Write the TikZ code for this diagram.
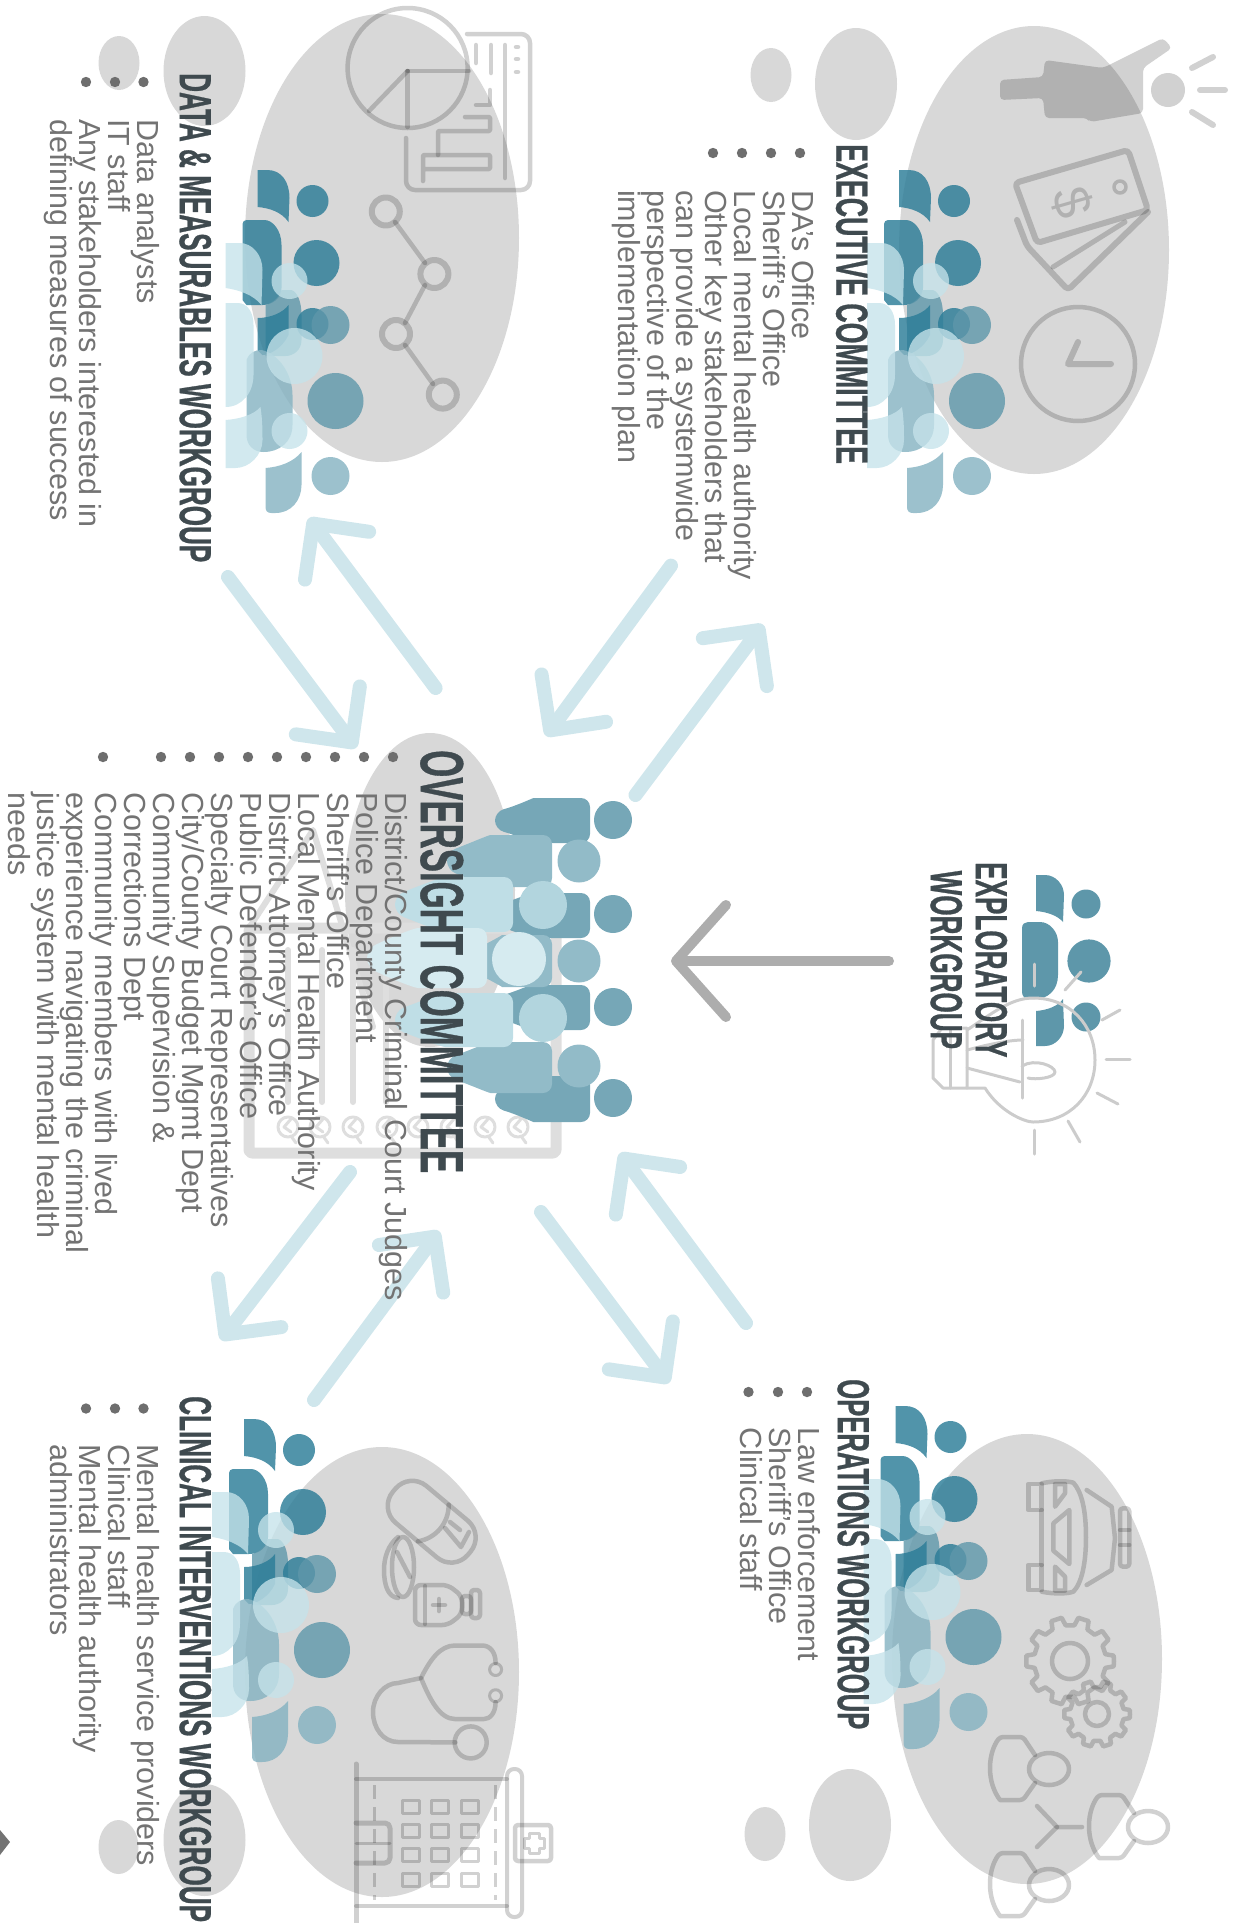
\documentclass[tikz,border=0pt]{standalone}
\usepackage{fontspec}
\usetikzlibrary{arrows.meta}
\setmainfont{Liberation Sans}
\newfontfamily\headf[FakeStretch=0.58,FakeBold=0.6]{Liberation Sans}
\newfontfamily\headfwide[FakeStretch=0.595,FakeBold=0.6]{Liberation Sans}
\newfontfamily\headfnarrow[FakeStretch=0.57,FakeBold=0.6]{Liberation Sans}
\definecolor{blobgrey}{HTML}{D8D8D8}
\definecolor{tealA}{HTML}{2B7C97}
\definecolor{tealB}{HTML}{5E97AA}
\definecolor{tealC}{HTML}{86B3C2}
\definecolor{paleT}{HTML}{C5E3EA}
\definecolor{arrowblue}{HTML}{CFE6EC}
\definecolor{headc}{HTML}{3F4A4F}
\definecolor{bodyc}{HTML}{737373}
\tikzset{
  blob/.style={fill=blobgrey,draw=none},
  icon/.style={draw=black,draw opacity=.18,line width=4.5pt,line join=round,line cap=round,fill=none},
  iconfill/.style={fill=black,fill opacity=.18,draw=none},
  thinicon/.style={draw=black!20,line width=3pt,line join=round,line cap=round,fill=none},
  court/.style={draw=black!13,line join=round,line cap=round,fill=none},
  bullet/.style={fill=black!57,draw=none},
  headtext/.style={rotate=-90,anchor=north west,inner sep=0pt,text=headc,font=\headf\bfseries\fontsize{45}{45}\selectfont,align=center},
  bodytext/.style={rotate=-90,anchor=north west,inner sep=0pt,text=bodyc,font=\fontsize{30.5}{29}\selectfont,align=left},
  linkarrow/.style={draw=arrowblue,line width=14pt,line cap=round,-{Straight Barb[length=40pt,width=80pt,line width=14pt,round]}},
  bigarrow/.style={draw=black!32,line width=10pt,line cap=round,-{Straight Barb[length=50pt,width=112pt,line width=10pt,round]}},
  dkA/.style={fill=tealA,fill opacity=.82},
  dkB/.style={fill=tealB,fill opacity=.8},
  dkC/.style={fill=tealC,fill opacity=.82},
  pale/.style={fill=paleT,fill opacity=.78},
}
\newcommand\fl{\rule{0pt}{22pt}}
\newcommand\capline{\rule{0pt}{32pt}}
\newcommand\peoplegroup[2]{%
\begin{scope}[shift={(#1,#2)}]
  \fill[dkA] (0,0) -- (10,0) .. controls (24,0) and (32,12) .. (32,28) -- (31,52) .. controls (24,42) and (12,38) .. (0,37) -- cycle;
  \fill[dkA] (55,31) circle (16);
  \fill[dkA] (59,93) circle (23);
  \fill[dkA] (-15,54) [rounded corners=4pt] -- (-15,50) -- (3,50) [rounded corners=0pt] .. controls (15,50) and (24,60) .. (24,75) -- (24,118) .. controls (24,128) and (15,135) .. (5,135) -- (-11,135) -- (-15,130) -- cycle;
  \fill[dkB] (8,135) .. controls (18,132) and (22,125) .. (24,120) -- (34,120) .. controls (40,122) and (44,132) .. (44,145) -- (44,170) .. controls (44,180) and (36,186) .. (28,186) -- (8,186) -- cycle;
  \fill[dkA] (0,148) .. controls (14,148) and (26,142) .. (31,135) -- (31,165) .. controls (25,178) and (12,185) .. (5,185) -- (0,180) -- cycle;
  \fill[dkA] (55,154) circle (16);
  \fill[dkB] (73,155) circle (19);
  \fill[dkC] (-11,190) .. controls (-8,182) and (-2,180) .. (4,180) .. controls (22,184) and (35,205) .. (35,225) -- (35,255) .. controls (35,272) and (22,282) .. (6,282) .. controls (-4,282) and (-11,275) .. (-11,265) -- cycle;
  \fill[dkB] (78,231) circle (28);
  \fill[dkC] (44,282) .. controls (36,292) and (22,297) .. (8,298) -- (8,337) .. controls (8,341) and (10,343) .. (14,343) -- (18,343) .. controls (34,343) and (44,330) .. (44,315) -- cycle;
  \fill[dkC] (73,306) circle (19);
  \fill[pale] (-32,73) -- (-18,73) .. controls (-5,73) and (5,85) .. (5,100) -- (4,135) .. controls (-4,125) and (-18,120) .. (-32,118) -- cycle;
  \fill[pale] (-32,133) -- (-20,133) .. controls (-10,133) and (-4,142) .. (-4,155) -- (-4,205) .. controls (-4,222) and (-15,237) .. (-32,237) -- cycle;
  \fill[pale] (-32,250) .. controls (-18,249) and (-4,245) .. (3,237) .. controls (5,250) and (5,262) .. (5,270) .. controls (5,285) and (-8,298) .. (-22,298) -- (-32,298) -- cycle;
  \fill[pale] (32,111) circle (18);
  \fill[pale] (37,186) circle (28);
  \fill[pale] (32,261) circle (18);
\end{scope}}
\newcommand\ovbody[5]{% xl xr ytop ybot colour
  \fill[#5,rounded corners=9pt] (#1,{(#3+#4)/2-9}) .. controls ({#1+(#2-#1)*.22},{#3+8}) and ({#1+(#2-#1)*.4},#3) .. ({#1+(#2-#1)*.5},#3) -- (#2,#3) -- (#2,#4) -- ({#1+(#2-#1)*.5},#4) .. controls ({#1+(#2-#1)*.4},#4) and ({#1+(#2-#1)*.22},{#4-8}) .. (#1,{(#3+#4)/2+9}) -- cycle;}
\newcommand\gearicon[5]{% cx cy R r hole
  \draw[icon] (#1,#2) circle (#5);
  \draw[icon,shift={(#1,#2)}] (0:#3)
    \foreach \a in {0,36,...,324}{ -- (\a+7:#3) -- (\a+11:#4) -- (\a+25:#4) -- (\a+29:#3) } -- (360:#3) -- cycle;}
\newcommand\personicon[2]{%
  \draw[icon,shift={(#1,#2)},rounded corners=3pt] (45,18) -- (33,0) -- (10,0) [rounded corners=0pt] .. controls (4,8) and (0,18) .. (0,31) .. controls (0,44) and (4,55) .. (10,63) [rounded corners=3pt] -- (33,63) -- (45,46);
  \draw[icon] ({#1+59},{#2+32}) ellipse [x radius=20,y radius=16];}
\begin{document}
\begin{tikzpicture}[x=1pt,y=-1pt]
\useasboundingbox (0,0) rectangle (1233,1923);
% ---- grey blobs
\fill[blob] (1034,250) ellipse [x radius=135,y radius=224];
\fill[blob] (856,84) ellipse [x radius=41,y radius=56];
\fill[blob] (771,75) ellipse [x radius=20.5,y radius=27];
\fill[blob] (382,238) ellipse [x radius=137,y radius=224];
\fill[blob] (204.5,71) ellipse [x radius=41,y radius=55];
\fill[blob] (119,63) ellipse [x radius=20.5,y radius=27];
\fill[blob] (1027,1659) ellipse [x radius=135,y radius=225];
\fill[blob] (850,1825) ellipse [x radius=41,y radius=56];
\fill[blob] (765,1834) ellipse [x radius=20.5,y radius=27];
\fill[blob] (382,1672) ellipse [x radius=137,y radius=225];
\fill[blob] (204.5,1840) ellipse [x radius=41,y radius=56];
\fill[blob] (118.5,1847) ellipse [x radius=20,y radius=27];
\fill[blob] (430,890) ellipse [x radius=85,y radius=157];
% ---- executive icons
\fill[iconfill,rounded corners=4pt] (1000,80) -- (1043,77) -- (1045,60) -- (1103,68) -- (1163,38) -- (1172,48) -- (1143,68) -- (1143,113) -- (1090,122) -- (1087,118) -- (1045,118) -- (1043,98) -- (1000,100) -- cycle;
\fill[iconfill] (1168,90) circle (17);
\draw[icon,line width=6pt] (1192,68) -- (1213,57);
\draw[icon,line width=6pt] (1200,90) -- (1225,90);
\draw[icon,line width=6pt] (1192,112) -- (1213,125);
\draw[icon,line width=6pt,rounded corners=4pt] (1015,183) -- (1128,150) -- (1148,210) -- (1037,243) -- cycle;
\draw[icon,line width=6pt,rounded corners=4pt] (1017,220) -- (1027,246) -- (1068,290) -- (1148,212);
\draw[icon,line width=5pt] (1053,267) -- (1125,222);
\draw[icon,line width=3.5pt] (1120,187) circle (6);
\node[rotate=-74,inner sep=0pt,text=black,text opacity=.18,font=\fontsize{52}{52}\selectfont] (dollar) at (1072,203) {\$};
\draw[icon] (1078,364) circle (57);
\draw[icon,line width=6pt] (1078,342) -- (1068,364) -- (1111,364);
% ---- data icons
\draw[icon] (407.6,68) circle (60);
\draw[icon] (407.6,71) -- (407.6,127);
\draw[icon] (407.6,71) -- (469,71);
\draw[icon] (407.6,71) -- (369,111);
\draw[icon,rounded corners=9pt] (467,34) -- (530,34) -- (530,190) -- (406,190) -- (406,138);
\draw[icon,rounded corners=1pt] (423,181) -- (423,155) -- (490,155) -- (490,169) -- (423,169);
\draw[icon,rounded corners=1pt] (438,155) -- (438,131) -- (490,131) -- (490,117) -- (465,117);
\draw[icon] (476,105) -- (490,105) -- (490,90);
\draw[icon] (476,45) -- (476,63);
\draw[icon] (491,45) -- (491,73);
\draw[icon] (505,45) -- (505,178);
\draw[icon] (516,47) -- (518,47);
\draw[icon] (516,59) -- (518,59);
\draw[icon] (516,72) -- (518,72);
\draw[icon,line width=6pt] (385.8,211.5) circle (14);
\draw[icon,line width=6pt] (434.4,274) circle (14);
\draw[icon,line width=6pt] (396,334) circle (14);
\draw[icon,line width=6pt] (442.8,394.6) circle (14);
\draw[icon] (395,222) -- (425,263);
\draw[icon] (425,285) -- (405,323);
\draw[icon] (405,345) -- (433,384);
% ---- operations icons: car
\begin{scope}[shift={(1010,1460)},xscale=.3333,yscale=.3333]
  \draw[icon] (55,72) rectangle (95,150);
  \draw[icon] (55,315) rectangle (95,390);
  \draw[icon] (95,150) -- (95,315);
  \draw[icon] (95,70) .. controls (130,62) and (170,62) .. (190,68) .. controls (215,95) and (228,150) .. (228,232) .. controls (228,310) and (215,370) .. (190,395) .. controls (170,402) and (130,402) .. (95,395);
  \draw[icon] (230,90) -- (305,140) -- (315,235) -- (305,330) -- (230,375);
  \draw[icon,rounded corners=3pt] (330,145) rectangle (358,320);
  \draw[icon] (330,210) -- (358,210);
  \draw[icon] (330,255) -- (358,255);
  \draw[icon] (130,190) -- (178,150) -- (178,312) -- (130,272) -- cycle;
  \draw[icon] (135,72) -- (165,72) -- (165,100) -- (135,140) -- cycle;
  \draw[icon] (135,320) -- (165,350) -- (165,392) -- (135,392) -- cycle;
\end{scope}
\gearicon{1070}{1661}{44}{36}{18}
\gearicon{1097}{1714}{33}{27}{12}
\personicon{990}{1737}
\personicon{1089}{1795}
\personicon{990}{1853}
\draw[icon] (1082,1827) -- (1057,1827) -- (1037,1806);
\draw[icon] (1057,1827) -- (1037,1847);
% ---- clinical icons
\draw[icon,shift={(431.7,1521.7)},rotate=-40,rounded corners=22pt] (-49,-24) rectangle (49,24);
\draw[icon,shift={(431.7,1521.7)},rotate=-40] (2,-24) .. controls (14,-10) and (14,10) .. (2,24);
\draw[icon] (450,1522) -- (460,1530);
\draw[icon] (445,1528) -- (461,1547) -- (469,1532);
\draw[icon] (403,1567) ellipse [x radius=11,y radius=30];
\draw[icon] (398,1537) .. controls (388,1545) and (384,1558) .. (384,1570) .. controls (384,1585) and (388,1597) .. (398,1598);
\draw[icon] (397,1552) -- (410,1577);
\draw[icon,rounded corners=6pt] (415,1585) -- (448,1585) -- (462,1596) -- (462,1614) -- (448,1625) -- (415,1625) -- cycle;
\draw[icon] (425,1586) -- (425,1624);
\draw[icon,rounded corners=3pt] (462,1596) rectangle (471,1614);
\draw[icon,rounded corners=3pt] (471,1590) rectangle (480,1618);
\draw[icon] (439,1599) -- (439,1611);
\draw[icon] (433,1605) -- (445,1605);
\draw[icon] (470.7,1742.4) circle (16);
\draw[icon] (455.4,1742.4) -- (398,1742) .. controls (383,1742) and (373,1728) .. (373,1712) .. controls (373,1696) and (385,1683) .. (398,1683) -- (421,1678) .. controls (430,1660) and (440,1645.5) .. (455,1645.5) -- (482,1645.5) .. controls (490,1645.5) and (495.6,1652) .. (495.6,1663);
\draw[icon] (421,1678) .. controls (430,1700) and (440,1719) .. (455,1719) -- (484,1719) .. controls (490,1719) and (495.6,1713) .. (495.6,1702);
\draw[icon,line width=3pt] (495.6,1669.5) circle (6);
\draw[icon,line width=3pt] (495.6,1695.7) circle (6);
\draw[icon,line width=5pt] (356,1923) -- (356,1764);
\draw[icon,line width=4pt] (356,1779) -- (507,1779);
\draw[icon,line width=4pt] (356,1906) -- (507,1906);
\draw[icon,rounded corners=7pt,line width=4pt] (507,1769) rectangle (522,1917);
\draw[icon,rounded corners=3pt] (515,1825) rectangle (551,1861);
\draw[icon,line width=3pt] (529,1838) -- (529,1833) -- (539,1833) -- (539,1838) -- (544,1838) -- (544,1848) -- (539,1848) -- (539,1853) -- (529,1853) -- (529,1848) -- (524,1848) -- (524,1838) -- cycle;
\draw[icon,line width=3pt,dash pattern=on 14pt off 8pt,line cap=butt] (374,1785) -- (374,1900);
\draw[icon,line width=3pt,dash pattern=on 14pt off 8pt,line cap=butt] (495.6,1785) -- (495.6,1900);
\draw[icon,rounded corners=5pt,line width=5pt] (356,1823) -- (390,1823) -- (390,1863) -- (356,1863);
\draw[icon,line width=3pt] (356,1843) -- (390,1843);
\foreach \cx in {411,440,470}{\foreach \cy in {1807,1831,1855,1880}{
  \draw[icon,line width=3pt] ({\cx-8.5},{\cy-6.5}) rectangle ({\cx+8.5},{\cy+6.5});}}
% ---- courthouse
\draw[court,line width=11pt,rounded corners=3pt] (249,928) -- (556,928) -- (556,1153) -- (249,1153) -- cycle;
\draw[court,line width=6pt] (249,928) -- (313,830) -- (373,1027);
\foreach \bx in {288,322,353,386}{\draw[court,line width=6pt] (\bx,950) -- (\bx,1102);}
\foreach \cx in {288,320,353,387,418,451,485,518}{
  \draw[court,line width=3pt] (\cx,1127) circle (10);
  \draw[court,line width=3pt] (\cx+3,1119) -- (\cx-4,1127) -- (\cx+3,1132) (\cx+3,1136) -- (\cx+8,1143);}
% ---- oversight people
\ovbody{495}{590}{798}{843}{tealB!85!white}
\ovbody{495}{590}{1076}{1122}{tealB!85!white}
\ovbody{490}{590}{893}{938}{tealB!85!white}
\ovbody{490}{590}{985}{1030}{tealB!85!white}
\ovbody{447}{552}{835}{887}{tealC!90!white}
\ovbody{447}{552}{1042}{1093}{tealC!90!white}
\ovbody{470}{552}{935}{987}{tealC!90!white}
\ovbody{395}{513}{877}{932}{paleT!90!tealC}
\ovbody{395}{513}{993}{1047}{paleT!90!tealC}
\ovbody{367}{487}{928}{988}{paleT!70!white}
\foreach \cy in {820,914,1007,1098}{\fill[tealB!85!white] (613,\cy) circle (19);}
\foreach \cy in {861,961,1066}{\fill[tealC!90!white] (579,\cy) circle (21.5);}
\foreach \cy in {905,1018}{\fill[paleT!70!tealC] (543,\cy) circle (24);}
\fill[paleT!70!white] (519,959) circle (27);
% ---- workgroup people
\peoplegroup{899}{170}
\peoplegroup{257.5}{170}
\peoplegroup{895.5}{1406}
\peoplegroup{244}{1419}
% ---- exploratory
\fill[tealB] (1036,875) -- (1045,875) .. controls (1056,875) and (1064,885) .. (1064,895) -- (1063,922) .. controls (1058,916) and (1048,912) .. (1036,911) -- cycle;
\fill[tealB] (1022,928) .. controls (1022,924) and (1025,922) .. (1028,922) -- (1040,922) .. controls (1050,922) and (1058,932) .. (1058,942) -- (1058,975) .. controls (1058,990) and (1048,999) .. (1035,999) -- (1028,999) .. controls (1025,999) and (1022,996) .. (1022,992) -- cycle;
\fill[tealB] (1063,999) .. controls (1058,1006) and (1048,1010) .. (1036,1011) -- (1036,1046) -- (1045,1046) .. controls (1056,1046) and (1064,1036) .. (1064,1026) -- cycle;
\fill[tealB] (1086,904) circle (14.5);
\fill[tealB] (1089,961) circle (21.6);
\fill[tealB] (1086,1017) circle (14.5);
\draw[thinicon] (967,1088) -- (985,1088) .. controls (1000,1112) and (1025,1122) .. (1033,1122) .. controls (1070,1122) and (1095,1095) .. (1095,1060) .. controls (1095,1025) and (1070,998) .. (1033,998) .. controls (1010,998) and (990,1015) .. (967,1030);
\draw[thinicon] (967,1028) -- (942,1028) -- (933,1040) -- (933,1078) -- (943,1088) -- (967,1088) -- cycle;
\draw[thinicon] (950,1030) -- (950,1088);
\draw[thinicon] (967,1050) .. controls (990,1044) and (1010,1040) .. (1023,1040);
\draw[thinicon] (967,1068) -- (1020,1082);
\draw[thinicon] (1022,1020) -- (1022,1098);
\draw[thinicon] (1022,1066) .. controls (1035,1058) and (1055,1066) .. (1055,1072) .. controls (1055,1078) and (1035,1080) .. (1028,1078);
\draw[thinicon] (1065,990) -- (1081,972);
\draw[thinicon] (1102,1020) -- (1120,1010);
\draw[thinicon] (1106,1059) -- (1130,1059);
\draw[thinicon] (1097,1093) -- (1118,1104);
\draw[thinicon] (1068,1121) -- (1080,1142);
\draw[thinicon] (1034,1130) -- (1034,1154);
\draw[thinicon] (1034,964) -- (1034,986);
% ---- connectors
\coordinate (execIn) at (763,624.5);
\coordinate (ovFromExecTail) at (635.5,795);
\coordinate (execTail) at (671,565.6);
\coordinate (ovFromExecTip) at (546,736);
\coordinate (dataIn) at (309,518);
\coordinate (ovToDataTail) at (435.6,688);
\coordinate (dataTail) at (228,577);
\coordinate (ovFromDataTip) at (356,748);
\coordinate (clinIn) at (221,1340);
\coordinate (ovToClinTail) at (350,1172);
\coordinate (clinTail) at (314,1400);
\coordinate (ovFromClinTip) at (439,1231);
\coordinate (opsIn) at (669,1383);
\coordinate (ovToOpsTail) at (541,1212);
\coordinate (opsTail) at (746,1323);
\coordinate (ovFromOpsTip) at (620,1153);
\coordinate (expTail) at (889,961);
\coordinate (ovFromExpTip) at (671,961);
\draw[linkarrow] (ovFromExecTail) -- (execIn);
\draw[linkarrow] (execTail) -- (ovFromExecTip);
\draw[linkarrow] (ovToDataTail) -- (dataIn);
\draw[linkarrow] (dataTail) -- (ovFromDataTip);
\draw[linkarrow] (ovToClinTail) -- (clinIn);
\draw[linkarrow] (clinTail) -- (ovFromClinTip);
\draw[linkarrow] (ovToOpsTail) -- (opsIn);
\draw[linkarrow] (opsTail) -- (ovFromOpsTip);
\draw[bigarrow] (expTail) -- (ovFromExpTip);
% ---- headings
\node[headtext,font=\headfwide\bfseries\fontsize{45}{45}\selectfont] (hExec) at (868.5,144) {\capline EXECUTIVE COMMITTEE};
\node[headtext] (hData) at (212,73) {\capline DATA \& MEASURABLES WORKGROUP};
\node[headtext,font=\headfnarrow\bfseries\fontsize{45}{45}\selectfont] (hOps) at (870,1379) {\capline OPERATIONS WORKGROUP};
\node[headtext] (hClin) at (212,1396) {\capline CLINICAL INTERVENTIONS WORKGROUP};
\node[headtext,font=\headfnarrow\bfseries\fontsize{61}{61}\selectfont] (hOver) at (465,750) {\rule{0pt}{44pt}OVERSIGHT COMMITTEE};
\node[headtext] (hExp) at (1008,862) {\capline EXPLORATORY\\WORKGROUP};
% ---- lists
\foreach \bx in {713,742,771,800}{\fill[bullet] (\bx,153) circle (5.2);}
\node[bodytext] (lExec) at (815,190) {\fl DA's Office\\Sheriff's Office\\Local mental health authority\\Other key stakeholders that\\can provide a systemwide\\perspective of the\\implementation plan};
\foreach \bx in {86,115,143.5}{\fill[bullet] (\bx,82) circle (5.2);}
\node[bodytext] (lData) at (159.5,119) {\fl Data analysts\\IT staff\\Any stakeholders interested in\\defining measures of success};
\foreach \bx in {748.5,778,807}{\fill[bullet] (\bx,1392) circle (5.2);}
\node[bodytext] (lOps) at (821,1427) {\fl Law enforcement\\Sheriff's Office\\Clinical staff};
\foreach \bx in {86,115,143.5}{\fill[bullet] (\bx,1408.5) circle (5.2);}
\node[bodytext] (lClin) at (159.5,1444) {\fl Mental health service providers\\Clinical staff\\Mental health authority\\administrators};
\foreach \bx in {103,161,190,219,248,277,306,335,364,393}{\fill[bullet] (\bx,757) circle (5.2);}
\node[bodytext] (lOver) at (408,792) {\fl District/County Criminal Court Judges\\Police Department\\Sheriff's Office\\Local Mental Health Authority\\District Attorney's Office\\Public Defender's Office\\Specialty Court Representatives\\City/County Budget Mgmt Dept\\Community Supervision \&\\Corrections Dept\\Community members with lived\\experience navigating the criminal\\justice system with mental health\\needs};
% ---- corner mark
\fill[black!55] (0,1830) -- (10,1842) -- (0,1855) -- cycle;
\end{tikzpicture}
\end{document}
